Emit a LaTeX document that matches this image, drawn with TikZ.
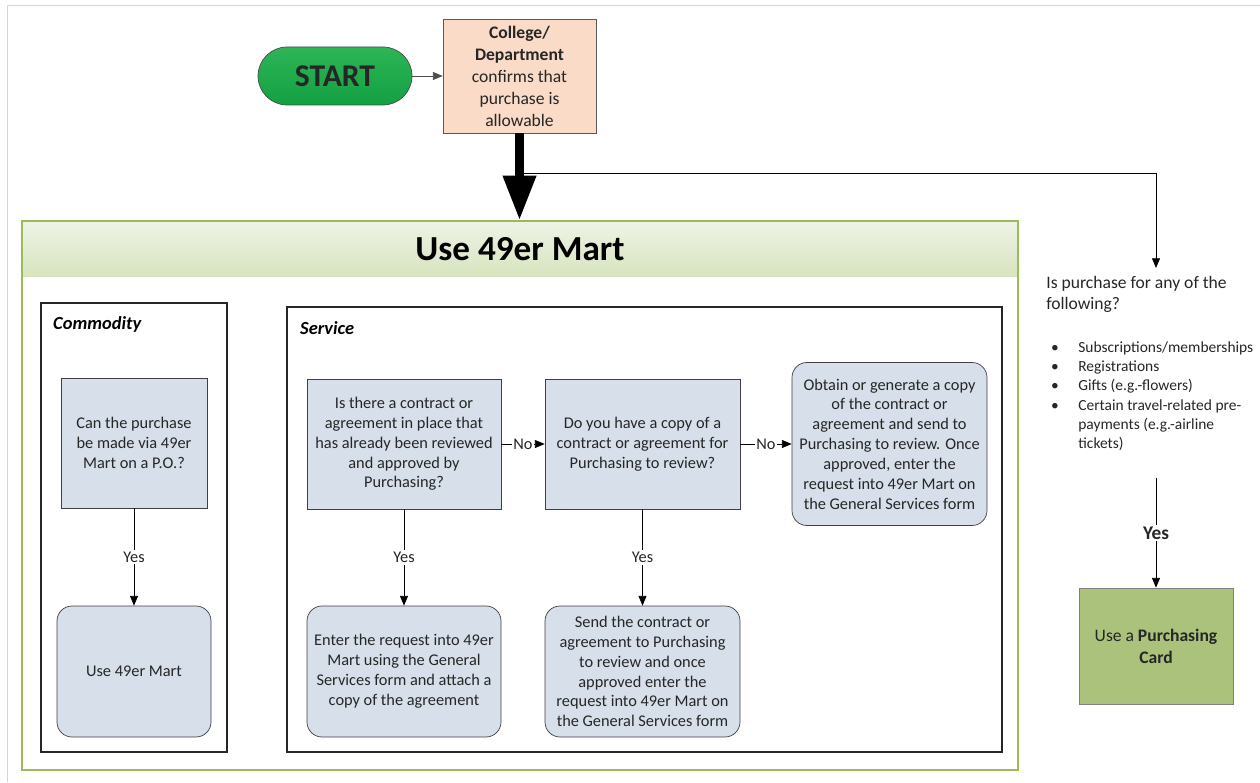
\documentclass[tikz,border=0pt]{standalone}
\usepackage{fontspec}
\setmainfont{Carlito}
\usetikzlibrary{positioning,arrows.meta,shapes}
\definecolor{startgreen}{HTML}{13A043}
\definecolor{startlight}{HTML}{2DB556}
\definecolor{peach}{HTML}{FADBC7}
\definecolor{boxblue}{HTML}{D6DFEA}
\definecolor{martgreen}{HTML}{9BBB59}
\definecolor{bandtop}{HTML}{EEF3E6}
\definecolor{bandbot}{HTML}{D7E4BD}
\definecolor{cardgreen}{HTML}{ABC27D}
\definecolor{framegray}{HTML}{D4D4D4}
\newcommand{\bul}{\makebox[0.6cm][l]{\hspace{1.5pt}\textbullet}}

\begin{document}
\begin{tikzpicture}[
  qbox/.style={draw=black!75,fill=boxblue,align=center,text=black!85,inner sep=2pt,font=\fontsize{9.3}{11.3}\selectfont},
  rbox/.style={qbox,rounded corners=0.3cm},
  lane/.style={draw=black!85,line width=0.8pt},
  arr/.style={-{Triangle[length=5.5pt,width=4.5pt]}},
  lbl/.style={fill=white,inner sep=1pt,text=black!85,font=\fontsize{9.3}{11}\selectfont}]
\useasboundingbox (0,0) rectangle (25.2,15.64);
\draw[framegray] (0.14,0) |- (25.2,15.54);

\node[draw=black!70,top color=startlight,bottom color=startgreen,rounded corners=0.58cm,minimum width=3.08cm,minimum height=1.16cm,font=\fontsize{18}{20}\selectfont\bfseries,text=black!85] (start) at (6.7,14.12) {START};
\node[draw=black!65,fill=peach,minimum width=3.06cm,minimum height=2.28cm,align=center,text=black!85,font=\fontsize{10}{12.5}\selectfont] (college) at (10.39,14.12) {\textbf{College/}\\\textbf{Department}\\confirms that\\purchase is\\allowable};
\draw[arr,black!70] (start) -- (college);

\node[top color=bandtop,bottom color=bandbot,minimum width=19.9cm,minimum height=1.12cm,font=\fontsize{20}{24}\selectfont\bfseries] (mart) at (10.4,10.66) {Use 49er Mart};
\draw[martgreen,line width=0.8pt] (0.44,0.24) rectangle (20.36,11.22);
\draw[line width=5.5pt,-{Triangle[length=0.9cm,width=0.62cm]}] (college) -- (college |- mart.north);

\coordinate (split) at (10.39,12.18);
\coordinate (qtop) at (23.12,10.28);
\draw[arr] (split) -| (qtop);

\node[anchor=north west,inner sep=0pt,align=left,text=black!85,font=\fontsize{10}{12}\selectfont] (query) at (20.92,10.12) {Is purchase for any of the\\following?};
\node[anchor=north west,inner sep=0pt,align=left,text=black!85,font=\fontsize{8.8}{11}\selectfont] (items) at (20.96,8.82) {\bul Subscriptions/memberships\\\bul Registrations\\\bul Gifts (e.g.-flowers)\\\bul Certain travel-related pre-\\\hspace*{0.6cm}payments (e.g.-airline\\\hspace*{0.6cm}tickets)};
\node[draw=black!50,fill=cardgreen,minimum width=3.08cm,minimum height=2.32cm,align=center,text=black!85,font=\fontsize{10}{12.5}\selectfont] (card) at (23.12,2.72) {Use a \textbf{Purchasing}\\\textbf{Card}};
\coordinate (ytop) at (23.12,6.08);
\draw[arr] (ytop) -- node[lbl,font=\fontsize{11}{13}\selectfont\bfseries]{Yes} (card);

\draw[lane] (0.82,0.6) rectangle (4.54,9.58);
\node[anchor=west,font=\fontsize{10.5}{12}\selectfont\bfseries\itshape] (commlbl) at (0.94,9.16) {Commodity};
\draw[lane] (5.74,0.6) rectangle (20.04,9.5);
\node[anchor=west,font=\fontsize{10.5}{12}\selectfont\bfseries\itshape] (servlbl) at (5.88,9.08) {Service};

\node[qbox,minimum width=2.92cm,minimum height=2.6cm] (cq) at (2.68,6.78) {Can the purchase\\be made via 49er\\Mart on a P.O.?};
\node[rbox,minimum width=3.08cm,minimum height=2.62cm] (cuse) at (2.68,2.21) {Use 49er Mart};
\draw[arr] (cq) -- node[lbl]{Yes} (cuse);

\node[qbox,minimum width=3.88cm,minimum height=2.6cm] (sq1) at (8.08,6.76) {Is there a contract or\\agreement in place that\\has already been reviewed\\and approved by\\Purchasing?};
\node[qbox,minimum width=3.9cm,minimum height=2.6cm] (sq2) at (12.85,6.76) {Do you have a copy of a\\contract or agreement for\\Purchasing to review?};
\node[rbox,minimum width=3.9cm,minimum height=3.26cm] (obtain) at (17.79,6.76) {Obtain or generate a copy\\of the contract or\\agreement and send to\\Purchasing to review. Once\\approved, enter the\\request into 49er Mart on\\the General Services form};
\node[rbox,minimum width=3.88cm,minimum height=2.62cm] (enter) at (8.08,2.21) {Enter the request into 49er\\Mart using the General\\Services form and attach a\\copy of the agreement};
\node[rbox,minimum width=3.9cm,minimum height=2.62cm] (send) at (12.85,2.21) {Send the contract or\\agreement to Purchasing\\to review and once\\approved enter the\\request into 49er Mart on\\the General Services form};
\draw[arr] (sq1) -- node[lbl]{No} (sq2);
\draw[arr] (sq2) -- node[lbl]{No} (obtain);
\draw[arr] (sq1) -- node[lbl]{Yes} (enter);
\draw[arr] (sq2) -- node[lbl]{Yes} (send);
\end{tikzpicture}
\end{document}
